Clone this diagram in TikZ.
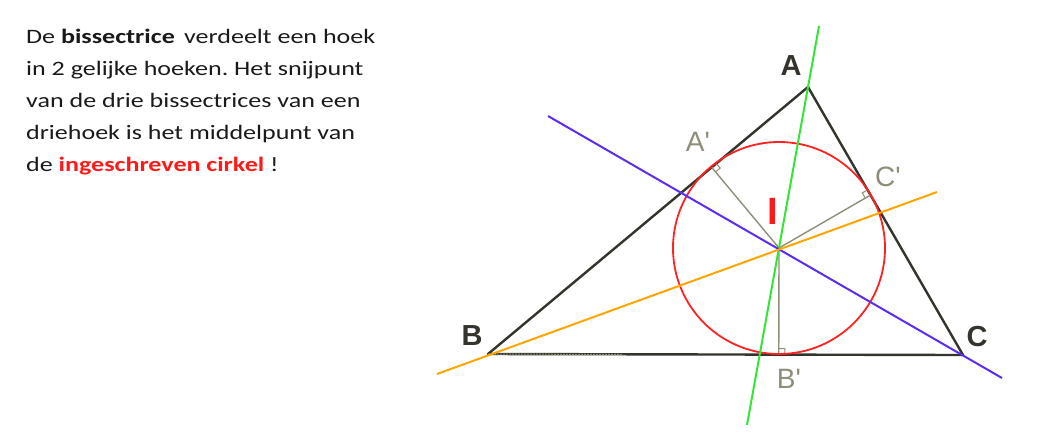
\documentclass[tikz,border=0pt]{standalone}
\usepackage{fontspec}
\setmainfont{Carlito}
\newfontfamily\bodyfont[FakeStretch=1.27]{Carlito}
\newfontfamily\labfont{Liberation Sans}
\usetikzlibrary{calc}
\frenchspacing
\definecolor{tri}{HTML}{34342C}
\definecolor{greyline}{HTML}{8E8E78}
\definecolor{circ}{HTML}{FF2222}
\definecolor{gline}{HTML}{33E633}
\definecolor{bline}{HTML}{5A2DF0}
\definecolor{oline}{HTML}{FFA500}
\definecolor{txtred}{HTML}{FF1A1A}
\definecolor{txtblack}{HTML}{1A1A1A}
\tikzset{
  side/.style={draw=tri, line width=2.4pt},
  perp/.style={draw=greyline, line width=1.4pt},
  bis/.style={line width=2pt},
  vlab/.style={font=\labfont\bfseries\fontsize{29}{30}\selectfont, text=tri, inner sep=0pt},
  flab/.style={font=\labfont\fontsize{28}{30}\selectfont, text=greyline, inner sep=0pt},
  rtmark/.style={draw=greyline, line width=1pt}
}
\begin{document}
\begin{tikzpicture}[x=1pt,y=-1pt]
\useasboundingbox (0,0) rectangle (1052,440);
% text
\node[anchor=base west, align=left, inner sep=0pt, text=txtblack,
  font=\bodyfont\fontsize{20.5}{32}\selectfont\frenchspacing] (txt) at (26,171)
  {De \textbf{bissectrice}\, verdeelt een hoek\\
   in 2 gelijke hoeken. Het snijpunt\\
   van de drie bissectrices van een\\
   driehoek is het middelpunt van\\
   de \textcolor{txtred}{\textbf{ingeschreven cirkel}} !};
% geometry
\coordinate (A) at (808,87);
\coordinate (B) at (488,354);
\coordinate (C) at (963,355);
\coordinate (I) at (779,248);
\coordinate (Ap) at ($(A)!(I)!(B)$);
\coordinate (Bp) at ($(B)!(I)!(C)$);
\coordinate (Cp) at ($(A)!(I)!(C)$);
\coordinate (gT) at (819,26);
\coordinate (gB) at (747,425);
\coordinate (bT) at (548,116);
\coordinate (bB) at (1002,378);
\coordinate (oL) at (437,374);
\coordinate (oR) at (937,192);
\coordinate (Bg) at (623,354.5);
% triangle
\draw[side, line join=round] (A) -- (B) -- (C) -- cycle;
\draw[draw=greyline, line width=1pt, dash pattern=on 2pt off 1pt] (B) -- (Bg);
% perpendiculars
\draw[perp] (I) -- (Ap);
\draw[perp] (I) -- (Bp);
\draw[perp] (I) -- (Cp);
\foreach \F/\S in {Ap/A, Bp/C, Cp/A}{
  \coordinate (m1) at ($(\F)!6pt!(I)$);
  \coordinate (m2) at ($(\F)!6pt!(\S)$);
  \draw[rtmark] (m1) -- ($(m1)+(m2)-(\F)$) -- (m2);
}
% incircle
\draw[draw=circ, line width=1.8pt] (I) circle[radius=106];
% bisectors
\draw[bis, draw=gline] (gT) -- (gB);
\draw[bis, draw=bline] (bT) -- (bB);
\draw[bis, draw=oline] (oL) -- (oR);
% labels
\node[vlab] (lA) at (791,66) {A};
\node[vlab] (lB) at (472,336) {B};
\node[vlab] (lC) at (977,337) {C};
\node[flab] (lAp) at (698,142) {A'};
\node[flab] (lCp) at (888,177) {C'};
\node[flab] (lBp) at (789,379) {B'};
\node[font=\labfont\bfseries\fontsize{38}{40}\selectfont, text=txtred, inner sep=0pt] (lI) at (773,211) {I};
\end{tikzpicture}
\end{document}
